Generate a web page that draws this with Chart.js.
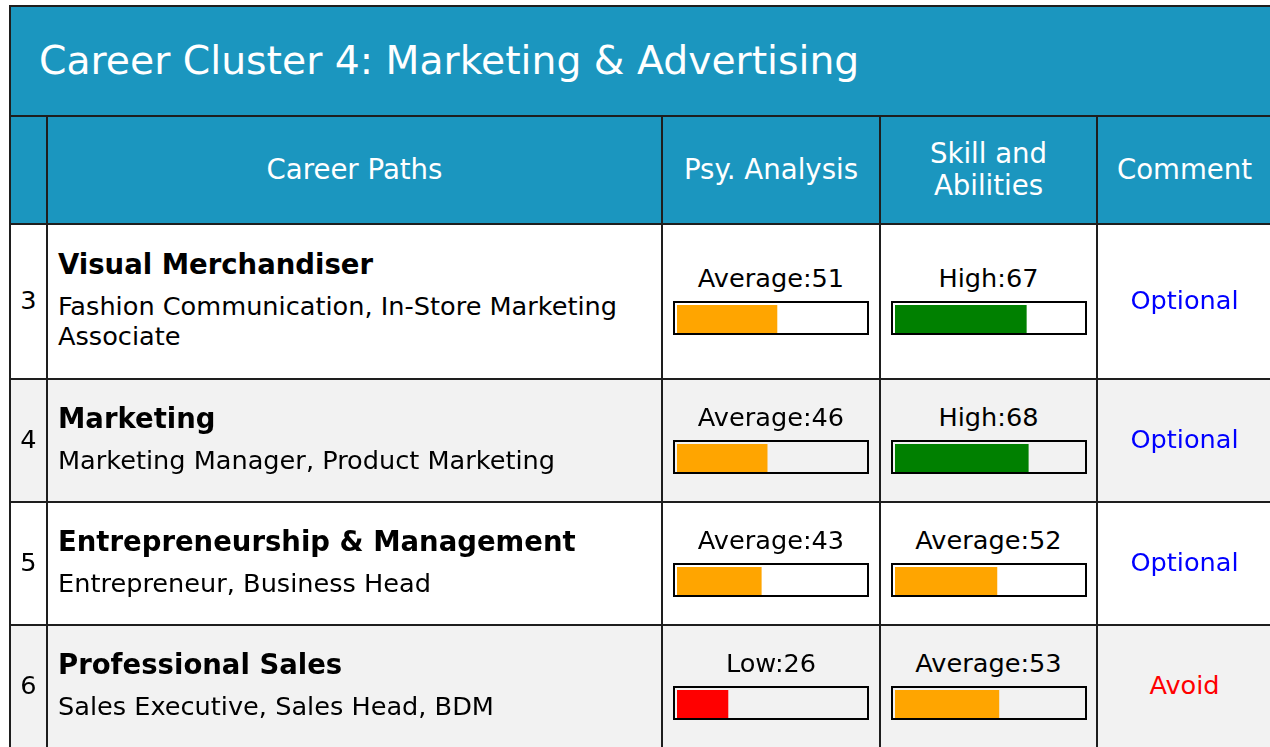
<!DOCTYPE html>
<html>
<head>
<meta charset="utf-8">
<script src="https://cdn.jsdelivr.net/npm/chart.js@4"></script>
<style>
  html, body { margin: 0; padding: 0; background: #ffffff; width: 1270px; height: 747px; overflow: hidden; }
  body { font-family: 'DejaVu Sans', sans-serif; position: relative; }
  #grid {
    position: absolute; left: 9px; top: 5px;
    display: grid;
    grid-template-columns: 35px 613px 216px 215px 173px;
    grid-template-rows: 108px 106px 153px 121px 121px 121px;
    gap: 2px; padding: 2px; background: #1e1e1e;
  }
  .blue { background: #1b96bf; color: #ffffff; }
  .title { grid-column: 1 / span 5; font-size: 39.3px; display: flex; align-items: center; padding-left: 28px; padding-bottom: 2px; box-sizing: border-box; }
  .head { font-size: 27.6px; line-height: 32px; display: flex; align-items: center; justify-content: center; text-align: center; }
  .cell { display: flex; align-items: center; box-sizing: border-box; }
  .white { background: #ffffff; }
  .gray { background: #f2f2f2; }
  .num { font-size: 25.6px; justify-content: center; color: #000; padding-bottom: 3px; }
  .path { flex-direction: column; align-items: flex-start; justify-content: center; padding: 0 10px 3px 10px; color: #000; }
  .ptitle { font-weight: bold; font-size: 27.5px; line-height: 31px; margin-bottom: 11px; }
  .psub { font-size: 25.6px; line-height: 30px; }
  .score { flex-direction: column; justify-content: center; padding-bottom: 5px; }
  .slabel { font-size: 25.6px; line-height: 31px; margin-bottom: 7px; color: #000; }
  .box { width: 196px; height: 34px; box-sizing: border-box; border: 2px solid #000; padding: 2px 0 0 2px; overflow: hidden; }
  .box canvas { display: block; }
  .comment { font-size: 25.6px; justify-content: center; padding-bottom: 3px; }
</style>
</head>
<body>
<div id="grid"></div>
<script>
const clusterTitle = "Career Cluster 4: Marketing & Advertising";
const headers = ["", "Career Paths", "Psy. Analysis", "Skill and<br>Abilities", "Comment"];
const rowNumbers = [3, 4, 5, 6];
const careerTitles = ["Visual Merchandiser", "Marketing", "Entrepreneurship & Management", "Professional Sales"];
const careerSubtitles = [
  "Fashion Communication, In-Store Marketing Associate",
  "Marketing Manager, Product Marketing",
  "Entrepreneur, Business Head",
  "Sales Executive, Sales Head, BDM"
];
const psyLevels = ["Average", "Average", "Average", "Low"];
const psyScores = [51, 46, 43, 26];
const skillLevels = ["High", "High", "Average", "Average"];
const skillScores = [67, 68, 52, 53];
const comments = ["Optional", "Optional", "Optional", "Avoid"];

const levelColors = { Low: "#ff0000", Average: "#ffa500", High: "#008000" };
const commentColors = { Optional: "#0000ff", Avoid: "#ff0000" };

const grid = document.getElementById("grid");
function add(cls, html) {
  const d = document.createElement("div");
  d.className = cls;
  if (html !== undefined) d.innerHTML = html;
  grid.appendChild(d);
  return d;
}
function esc(s) { return s.replace(/&/g, "&amp;").replace(/</g, "&lt;"); }

add("blue title", esc(clusterTitle));
headers.forEach(h => add("blue head", h));

const bars = [];
rowNumbers.forEach((n, i) => {
  const bg = i % 2 === 0 ? "white" : "gray";
  add("cell num " + bg, String(n));
  add("cell path " + bg,
    '<div class="ptitle">' + esc(careerTitles[i]) + '</div><div class="psub">' + esc(careerSubtitles[i]) + '</div>');
  [[psyLevels, psyScores], [skillLevels, skillScores]].forEach(([lv, sc]) => {
    const c = add("cell score " + bg);
    const lab = document.createElement("div");
    lab.className = "slabel";
    lab.textContent = lv[i] + ":" + sc[i];
    c.appendChild(lab);
    const box = document.createElement("div");
    box.className = "box";
    const cv = document.createElement("canvas");
    cv.width = 196; cv.height = 28;
    box.appendChild(cv);
    c.appendChild(box);
    bars.push({ canvas: cv, value: sc[i], color: levelColors[lv[i]] });
  });
  const cm = add("cell comment " + bg, esc(comments[i]));
  cm.style.color = commentColors[comments[i]];
});

bars.forEach(b => {
  new Chart(b.canvas, {
    type: "bar",
    data: {
      labels: [""],
      datasets: [{ data: [b.value], backgroundColor: b.color, borderWidth: 0, barPercentage: 1, categoryPercentage: 1 }]
    },
    options: {
      indexAxis: "y",
      responsive: false,
      animation: false,
      devicePixelRatio: 1,
      layout: { padding: 0 },
      plugins: { legend: { display: false }, tooltip: { enabled: false } },
      scales: {
        x: { display: false, min: 0, max: 100 },
        y: { display: false }
      }
    }
  });
});
</script>
</body>
</html>
